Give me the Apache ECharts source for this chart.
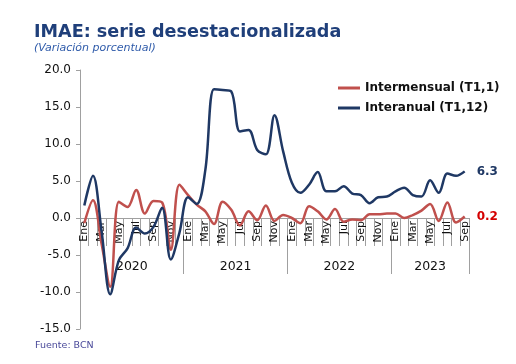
<!DOCTYPE html>
<html>
<head>
<meta charset="utf-8">
<script src="https://cdn.jsdelivr.net/npm/echarts@6/dist/echarts.min.js"></script>
<style>html,body{margin:0;padding:0;background:#fff}#c{width:516px;height:364px}</style>
</head>
<body>
<div id="c"></div>
<script>
var monthNames = ['Ene','Feb','Mar','Abr','May','Jun','Jul','Ago','Sep','Oct','Nov','Dic'];
var years = ['2020','2021','2022','2023'];
var months = [];
for (var y = 0; y < 4; y++) { for (var m = 0; m < 12; m++) { if (y === 3 && m > 8) break; months.push(monthNames[m]); } }

var intermensual = [
  -0.7, 2.4, -3.5, -9.3, 2.2, 1.5, 3.8, 0.6, 2.3, 2.1, -4.3, 4.5,
  3.1, 1.8, 0.9, -0.8, 2.2, 1.1, -1.0, 0.9, -0.3, 1.7, -0.4, 0.4,
  0.0, -0.7, 1.6, 0.9, -0.2, 1.2, -0.5, -0.2, -0.3, 0.5, 0.5, 0.6,
  0.6, 0.0, 0.4, 1.0, 1.9, -0.4, 2.1, -0.6, 0.2
];
var interanual = [
  1.7, 5.7, -1.8, -10.3, -5.7, -4.1, -1.3, -2.1, -1.2, 1.4, -5.6, -2.0,
  2.8, 1.9, 6.5, 17.4, 17.3, 17.1, 11.7, 11.9, 9.2, 8.6, 13.9, 9.0,
  4.8, 3.4, 4.5, 6.2, 3.6, 3.6, 4.3, 3.3, 3.1, 2.0, 2.8, 2.9,
  3.6, 4.1, 3.1, 2.9, 5.1, 3.4, 6.0, 5.7, 6.3
];
var yearTickPos = [0, 12, 24, 36, 45];
var yearLabelPos = [6, 18, 30, 40.5];

var Y_MIN = -15, Y_MAX = 20;
var GRID_TOP = 70, GRID_BOTTOM = 35, H = 364;
var plotH = H - GRID_TOP - GRID_BOTTOM;
var zeroOffset = -plotH * (0 - Y_MIN) / (Y_MAX - Y_MIN);

var FONT = 'DejaVu Sans';
var chart = echarts.init(document.getElementById('c'));
chart.setOption({
  animation: false,
  textStyle: { fontFamily: FONT },
  title: [
    { text: 'IMAE: serie desestacionalizada', left: 29, top: 18,
      textStyle: { fontFamily: FONT, fontSize: 17.6, fontWeight: 'bold', color: '#1F3F7A' } },
    { text: '(Variación porcentual)', left: 29, top: 38,
      textStyle: { fontFamily: FONT, fontSize: 11, fontStyle: 'italic', fontWeight: 'normal', color: '#2F5BAA' } },
    { text: 'Fuente: BCN', left: 30, top: 336,
      textStyle: { fontFamily: FONT, fontSize: 9.5, fontWeight: 'normal', color: '#4A4A9A' } }
  ],
  legend: {
    orient: 'vertical', left: 333, top: 76, itemWidth: 22, itemHeight: 3, itemGap: 6,
    textStyle: { fontFamily: FONT, fontSize: 12, fontWeight: 'bold', color: '#111', lineHeight: 14 },
    data: [{ name: 'Intermensual (T1,1)', icon: 'rect' }, { name: 'Interanual (T1,12)', icon: 'rect' }]
  },
  grid: { left: 80, right: 47, top: GRID_TOP, bottom: GRID_BOTTOM },
  xAxis: [
    {
      type: 'category', data: months, boundaryGap: true, position: 'bottom', offset: zeroOffset,
      axisLine: { onZero: false, lineStyle: { color: '#A0A0A0', width: 1 } },
      axisTick: { show: true, interval: 0, length: 28, lineStyle: { color: '#A0A0A0' } },
      axisLabel: { interval: 1, rotate: 90, margin: 3, fontFamily: FONT, fontSize: 11, color: '#111' },
      splitLine: { show: false }
    },
    {
      type: 'value', min: 0, max: 45, position: 'bottom', offset: zeroOffset,
      axisLine: { show: false, onZero: false },
      axisTick: { show: true, customValues: yearTickPos, length: 56, lineStyle: { color: '#A0A0A0' } },
      axisLabel: { customValues: yearLabelPos, margin: 42, fontFamily: FONT, fontSize: 12.5, color: '#111',
        formatter: function (v) { return years[yearLabelPos.indexOf(v)] || ''; } },
      splitLine: { show: false }
    }
  ],
  yAxis: {
    type: 'value', min: Y_MIN, max: Y_MAX, interval: 5,
    axisLine: { show: true, lineStyle: { color: '#A0A0A0' } },
    axisTick: { show: true, length: 4, lineStyle: { color: '#A0A0A0' } },
    axisLabel: { margin: 9, fontFamily: FONT, fontSize: 12, color: '#111',
      formatter: function (v) { return v.toFixed(1); } },
    splitLine: { show: false }
  },
  series: [
    {
      name: 'Intermensual (T1,1)', type: 'line', data: intermensual, xAxisIndex: 0,
      smooth: 0.35, symbol: 'none', lineStyle: { color: '#C0504D', width: 2.5 }, itemStyle: { color: '#C0504D' },
      endLabel: { show: true, distance: 12, fontFamily: FONT, fontSize: 12, fontWeight: 'bold', color: '#D40000',
        formatter: function (p) { return p.value.toFixed(1); } }
    },
    {
      name: 'Interanual (T1,12)', type: 'line', data: interanual, xAxisIndex: 0,
      smooth: 0.35, symbol: 'none', lineStyle: { color: '#1F3864', width: 2.5 }, itemStyle: { color: '#1F3864' },
      endLabel: { show: true, distance: 12, fontFamily: FONT, fontSize: 12, fontWeight: 'bold', color: '#1F3864',
        formatter: function (p) { return p.value.toFixed(1); } }
    }
  ]
});
</script>
</body>
</html>
